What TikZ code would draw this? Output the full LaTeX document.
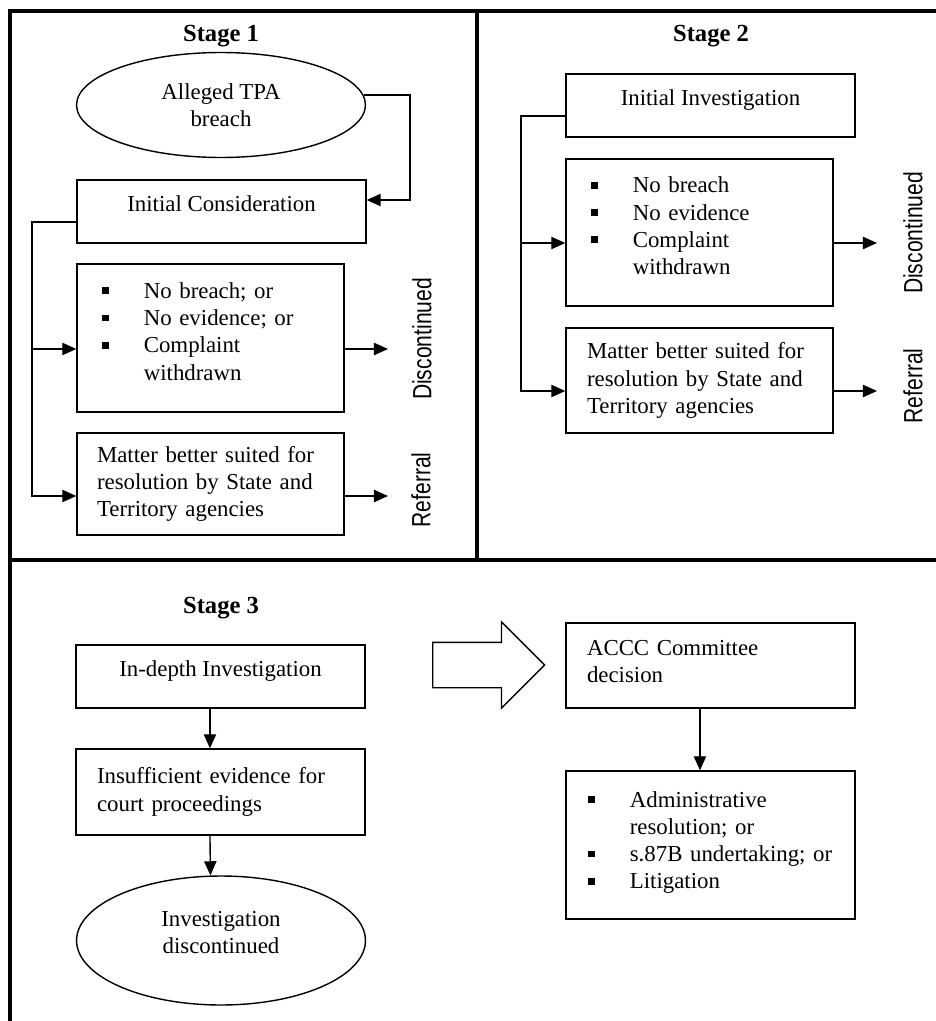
\documentclass[tikz,border=0pt]{standalone}
\usepackage{fontspec}
\setmainfont{Liberation Serif}
\setsansfont{Liberation Sans}
\usepackage{graphicx}
\usepackage{tikz}
\usetikzlibrary{arrows.meta,shapes.geometric,shapes.arrows}

\newcommand{\blt}{\makebox[23.8pt][l]{\rule[2.5pt]{3.8pt}{3.8pt}}}
\newcommand{\bltgap}{\hspace*{23.8pt}}

\begin{document}
\begin{tikzpicture}[x=0.02cm,y=-0.02cm,>={Triangle[length=8pt,width=7pt]}]
\tikzstyle{txt}=[font=\fontsize{13}{15.5}\selectfont]
\tikzstyle{box}=[rectangle,draw,line width=0.8pt,txt]
\tikzstyle{onebox}=[box,minimum width=5.78cm,minimum height=1.26cm,text depth=9pt]
\tikzstyle{listbox}=[box,align=left,inner xsep=0.5cm,text width=4.34cm,minimum height=2.96cm,text depth=54pt]
\tikzstyle{oval}=[ellipse,draw,line width=0.8pt,inner sep=0pt,align=center,minimum width=5.78cm,txt]
\tikzstyle{stage}=[font=\fontsize{14}{16}\selectfont\bfseries]
\tikzstyle{side}=[rotate=90,font=\sffamily\fontsize{15}{17}\selectfont]
\tikzstyle{frame}=[line width=2.2pt]
\tikzstyle{link}=[line width=0.8pt]
\useasboundingbox (0,0) rectangle (936,1021);

% Stage 1
\node[stage] (s1) at (221,36) {Stage 1};
\node[oval,minimum height=2.10cm] (alleg) at (221,105) {Alleged TPA\\breach};
\node[onebox] (initc) at (221.5,211.5) {Initial Consideration};
\node[listbox] (bul1) at (210.5,338) {\blt No breach; or\\\blt No evidence; or\\\blt Complaint\\\bltgap withdrawn};
\node[box,align=left,inner xsep=0.4cm,text width=4.54cm,minimum height=2.04cm] (mat1) at (210.5,484) {Matter better suited for\\resolution by State and\\Territory agencies};
\node[side] (disc1) at (422,339) {\scalebox{0.8}[1]{Discontinued}};
\node[side] (ref1) at (421,490) {\scalebox{0.8}[1]{Referral}};
\coordinate (turn1) at (410,200);
\coordinate (bus1) at (32,222);
\coordinate (d1) at (388,349);
\coordinate (r1) at (388,496);
\draw[link,->] (alleg.4) -| (turn1) -- (initc.east |- turn1);
\draw[link,->] (initc.west |- bus1) -- (bus1) |- (mat1.west |- r1);
\draw[link,->] (bus1 |- d1) -- (bul1.west |- d1);
\draw[link,->] (bul1.east |- d1) -- (d1);
\draw[link,->] (mat1.east |- r1) -- (r1);

% Stage 2
\node[stage] (s2) at (711,36) {Stage 2};
\node[onebox] (initi) at (710.5,105.5) {Initial Investigation};
\node[listbox,minimum height=2.94cm] (bul2) at (699.5,232.5) {\blt No breach\\\blt No evidence\\\blt Complaint\\\bltgap withdrawn};
\node[box,align=left,inner xsep=0.42cm,text width=4.50cm,minimum height=2.10cm] (mat2) at (699.5,380.5) {Matter better suited for\\resolution by State and\\Territory agencies};
\node[side] (disc2) at (913,233) {\scalebox{0.8}[1]{Discontinued}};
\node[side] (ref2) at (913,386) {\scalebox{0.8}[1]{Referral}};
\coordinate (bus2) at (521,116);
\coordinate (d2) at (877,243);
\coordinate (r2) at (877,391);
\draw[link,->] (initi.west |- bus2) -- (bus2) |- (mat2.west |- r2);
\draw[link,->] (bus2 |- d2) -- (bul2.west |- d2);
\draw[link,->] (bul2.east |- d2) -- (d2);
\draw[link,->] (mat2.east |- r2) -- (r2);

% Stage 3
\node[stage] (s3) at (221,608) {Stage 3};
\node[onebox] (indep) at (220.5,676.5) {In-depth Investigation};
\node[box,align=left,inner xsep=0.42cm,text width=4.94cm,minimum height=1.72cm] (insuf) at (220.5,792) {Insufficient evidence for\\court proceedings};
\node[oval,minimum height=2.58cm,text depth=9pt] (invd) at (221,940.5) {Investigation\\discontinued};
\node[single arrow,draw,link,inner xsep=0pt,inner ysep=0.44cm,minimum height=2.24cm,minimum width=1.70cm,single arrow head extend=0.41cm,anchor=tail] (bigarr) at (432,665) {};
\node[box,align=left,inner xsep=0.42cm,text width=4.94cm,minimum height=1.70cm,text depth=20pt] (accc) at (710.5,665.5) {ACCC Committee\\decision};
\node[box,align=left,inner xsep=0.44cm,text width=4.90cm,minimum height=2.96cm,text depth=52pt] (outc) at (710.5,845) {\blt Administrative\\\bltgap resolution; or\\\blt s.87B undertaking; or\\\blt Litigation};
\draw[link,->] ([xshift=-6pt]indep.south) -- ([xshift=-6pt]insuf.north);
\draw[link,->] ([xshift=-6pt]insuf.south) -- ([xshift=-6pt]invd.north);
\draw[link,->] ([xshift=-6pt]accc.south) -- ([xshift=-6pt]outc.north);

% frame
\draw[frame] (936,11) -- (10,11) -- (10,1021);
\draw[frame] (477,11) -- (477,560);
\draw[frame] (10,560) -- (936,560);
\end{tikzpicture}
\end{document}
